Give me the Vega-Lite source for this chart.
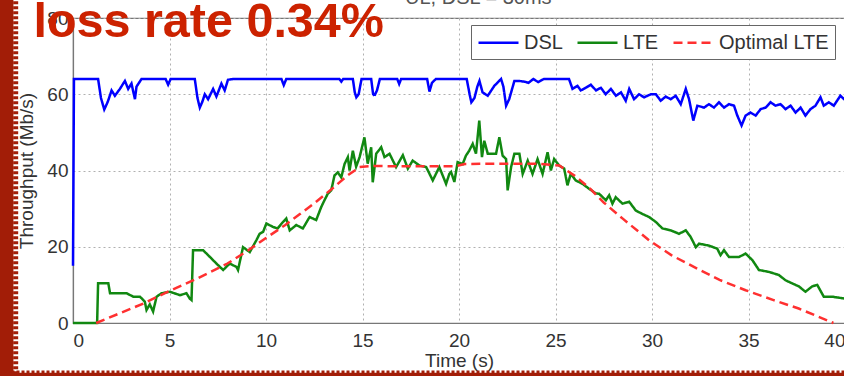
{
"$schema": "https://vega.github.io/schema/vega-lite/v6.json",
"width": 772, "height": 305,
"autosize": {"type": "none"},
"padding": {"left": 73, "top": 18, "right": 0, "bottom": 53},
"background": "white",
"config": {
 "view": {"stroke": "#777", "strokeWidth": 1.2},
 "font": "Liberation Sans",
 "axis": {"labelFont": "Liberation Sans", "labelFontSize": 19, "labelColor": "#333", "titleFont": "Liberation Sans", "titleFontSize": 19, "titleFontWeight": "normal", "titleColor": "#333", "grid": true, "gridColor": "#b0b0b0", "gridDash": [2, 3], "gridWidth": 1, "ticks": false, "domainColor": "#777", "domainWidth": 1.2}
},
"datasets": {
 "series": [
{"s":"DSL","t":0,"v":15},{"s":"DSL","t":0.05,"v":64},{"s":"DSL","t":1.3,"v":64},{"s":"DSL","t":1.45,"v":59},{"s":"DSL","t":1.62,"v":56},{"s":"DSL","t":1.8,"v":58},{"s":"DSL","t":2.0,"v":61},{"s":"DSL","t":2.17,"v":59.6},{"s":"DSL","t":2.43,"v":61.4},{"s":"DSL","t":2.69,"v":63.5},{"s":"DSL","t":2.86,"v":61.4},{"s":"DSL","t":3.03,"v":62.8},{"s":"DSL","t":3.21,"v":58.7},{"s":"DSL","t":3.29,"v":62},{"s":"DSL","t":3.55,"v":64},{"s":"DSL","t":4.8,"v":64},{"s":"DSL","t":4.93,"v":62.5},{"s":"DSL","t":5.06,"v":64},{"s":"DSL","t":6.31,"v":64},{"s":"DSL","t":6.45,"v":59},{"s":"DSL","t":6.57,"v":56.5},{"s":"DSL","t":6.7,"v":58},{"s":"DSL","t":6.83,"v":60},{"s":"DSL","t":7.0,"v":58.7},{"s":"DSL","t":7.26,"v":61.4},{"s":"DSL","t":7.43,"v":59.4},{"s":"DSL","t":7.69,"v":62.8},{"s":"DSL","t":7.86,"v":61},{"s":"DSL","t":8.03,"v":63.8},{"s":"DSL","t":8.3,"v":64},{"s":"DSL","t":10.8,"v":64},{"s":"DSL","t":10.92,"v":62.4},{"s":"DSL","t":11.05,"v":64},{"s":"DSL","t":13.8,"v":64},{"s":"DSL","t":13.9,"v":63.3},{"s":"DSL","t":14.0,"v":64},{"s":"DSL","t":14.5,"v":64},{"s":"DSL","t":14.6,"v":60.5},{"s":"DSL","t":14.68,"v":59.2},{"s":"DSL","t":14.8,"v":60},{"s":"DSL","t":14.95,"v":64},{"s":"DSL","t":15.45,"v":64},{"s":"DSL","t":15.55,"v":60},{"s":"DSL","t":15.62,"v":59.6},{"s":"DSL","t":15.75,"v":61},{"s":"DSL","t":15.9,"v":64},{"s":"DSL","t":16.8,"v":64},{"s":"DSL","t":16.9,"v":62.7},{"s":"DSL","t":17.0,"v":64},{"s":"DSL","t":18.35,"v":64},{"s":"DSL","t":18.47,"v":60.7},{"s":"DSL","t":18.6,"v":63},{"s":"DSL","t":18.8,"v":64},{"s":"DSL","t":20.4,"v":64},{"s":"DSL","t":20.55,"v":60},{"s":"DSL","t":20.64,"v":57.9},{"s":"DSL","t":20.8,"v":59},{"s":"DSL","t":20.95,"v":62},{"s":"DSL","t":21.06,"v":63.5},{"s":"DSL","t":21.22,"v":60.5},{"s":"DSL","t":21.49,"v":59.6},{"s":"DSL","t":21.83,"v":62.2},{"s":"DSL","t":22.18,"v":64},{"s":"DSL","t":22.3,"v":62},{"s":"DSL","t":22.44,"v":57},{"s":"DSL","t":22.6,"v":58.7},{"s":"DSL","t":22.87,"v":63.5},{"s":"DSL","t":23.1,"v":63.5},{"s":"DSL","t":23.4,"v":63.3},{"s":"DSL","t":23.6,"v":63},{"s":"DSL","t":23.85,"v":64},{"s":"DSL","t":24.1,"v":63.2},{"s":"DSL","t":24.4,"v":64},{"s":"DSL","t":25.7,"v":64},{"s":"DSL","t":25.88,"v":61.4},{"s":"DSL","t":26.14,"v":62.2},{"s":"DSL","t":26.31,"v":61},{"s":"DSL","t":26.57,"v":61.7},{"s":"DSL","t":26.83,"v":62.5},{"s":"DSL","t":27.1,"v":61},{"s":"DSL","t":27.35,"v":61.7},{"s":"DSL","t":27.6,"v":60},{"s":"DSL","t":27.87,"v":61.4},{"s":"DSL","t":28.13,"v":59.6},{"s":"DSL","t":28.39,"v":60.5},{"s":"DSL","t":28.64,"v":58.3},{"s":"DSL","t":28.82,"v":61.4},{"s":"DSL","t":29.07,"v":58.7},{"s":"DSL","t":29.33,"v":60},{"s":"DSL","t":29.59,"v":59.2},{"s":"DSL","t":29.94,"v":60},{"s":"DSL","t":30.2,"v":60},{"s":"DSL","t":30.45,"v":58.3},{"s":"DSL","t":30.71,"v":59.4},{"s":"DSL","t":30.97,"v":58.7},{"s":"DSL","t":31.23,"v":59.6},{"s":"DSL","t":31.49,"v":57.4},{"s":"DSL","t":31.75,"v":61.4},{"s":"DSL","t":31.92,"v":58.7},{"s":"DSL","t":32.14,"v":53.1},{"s":"DSL","t":32.35,"v":57},{"s":"DSL","t":32.7,"v":56.5},{"s":"DSL","t":32.95,"v":57.4},{"s":"DSL","t":33.21,"v":56.5},{"s":"DSL","t":33.47,"v":57.9},{"s":"DSL","t":33.73,"v":56.5},{"s":"DSL","t":33.99,"v":57.4},{"s":"DSL","t":34.25,"v":57},{"s":"DSL","t":34.42,"v":54.4},{"s":"DSL","t":34.64,"v":51.8},{"s":"DSL","t":34.85,"v":54.4},{"s":"DSL","t":35.1,"v":55.2},{"s":"DSL","t":35.37,"v":54.4},{"s":"DSL","t":35.63,"v":56.1},{"s":"DSL","t":35.89,"v":56.5},{"s":"DSL","t":36.14,"v":57.9},{"s":"DSL","t":36.4,"v":57},{"s":"DSL","t":36.66,"v":57.4},{"s":"DSL","t":36.92,"v":56.1},{"s":"DSL","t":37.18,"v":57},{"s":"DSL","t":37.44,"v":55.2},{"s":"DSL","t":37.7,"v":56.5},{"s":"DSL","t":37.95,"v":54.4},{"s":"DSL","t":38.21,"v":56.1},{"s":"DSL","t":38.47,"v":57},{"s":"DSL","t":38.73,"v":59.2},{"s":"DSL","t":38.9,"v":57},{"s":"DSL","t":39.16,"v":57.9},{"s":"DSL","t":39.42,"v":57},{"s":"DSL","t":39.76,"v":59.6},{"s":"DSL","t":40,"v":58.5},
{"s":"LTE","t":0,"v":0},{"s":"LTE","t":1.25,"v":0},{"s":"LTE","t":1.3,"v":10.4},{"s":"LTE","t":1.83,"v":10.4},{"s":"LTE","t":1.92,"v":7.8},{"s":"LTE","t":2.78,"v":7.8},{"s":"LTE","t":3.12,"v":6.9},{"s":"LTE","t":3.47,"v":6.9},{"s":"LTE","t":3.72,"v":5.6},{"s":"LTE","t":3.81,"v":3.4},{"s":"LTE","t":3.98,"v":4.9},{"s":"LTE","t":4.15,"v":3.0},{"s":"LTE","t":4.33,"v":6.9},{"s":"LTE","t":4.59,"v":7.8},{"s":"LTE","t":5.02,"v":8.2},{"s":"LTE","t":5.54,"v":7.3},{"s":"LTE","t":5.88,"v":7.8},{"s":"LTE","t":6.05,"v":6.4},{"s":"LTE","t":6.14,"v":6.0},{"s":"LTE","t":6.22,"v":19.1},{"s":"LTE","t":6.74,"v":19.1},{"s":"LTE","t":7.1,"v":17.3},{"s":"LTE","t":7.43,"v":15.6},{"s":"LTE","t":7.78,"v":13.9},{"s":"LTE","t":8.12,"v":15.6},{"s":"LTE","t":8.47,"v":14.7},{"s":"LTE","t":8.55,"v":13.9},{"s":"LTE","t":8.81,"v":19.9},{"s":"LTE","t":9.16,"v":18.6},{"s":"LTE","t":9.5,"v":21.7},{"s":"LTE","t":9.67,"v":23.4},{"s":"LTE","t":9.85,"v":23.9},{"s":"LTE","t":10.02,"v":26.1},{"s":"LTE","t":10.36,"v":25.2},{"s":"LTE","t":10.6,"v":24.8},{"s":"LTE","t":10.88,"v":26.5},{"s":"LTE","t":11.05,"v":27.4},{"s":"LTE","t":11.23,"v":24.3},{"s":"LTE","t":11.57,"v":25.7},{"s":"LTE","t":11.91,"v":24.8},{"s":"LTE","t":12.26,"v":27.8},{"s":"LTE","t":12.6,"v":27},{"s":"LTE","t":12.86,"v":30.4},{"s":"LTE","t":13.03,"v":32.2},{"s":"LTE","t":13.2,"v":33.9},{"s":"LTE","t":13.38,"v":34.8},{"s":"LTE","t":13.55,"v":38.7},{"s":"LTE","t":13.72,"v":39.5},{"s":"LTE","t":13.9,"v":38.2},{"s":"LTE","t":14.07,"v":41.7},{"s":"LTE","t":14.24,"v":43.5},{"s":"LTE","t":14.33,"v":40},{"s":"LTE","t":14.5,"v":45.2},{"s":"LTE","t":14.67,"v":41},{"s":"LTE","t":14.85,"v":43.5},{"s":"LTE","t":15.1,"v":48.7},{"s":"LTE","t":15.27,"v":41.8},{"s":"LTE","t":15.45,"v":46.1},{"s":"LTE","t":15.53,"v":36.9},{"s":"LTE","t":15.71,"v":44.4},{"s":"LTE","t":15.97,"v":46.1},{"s":"LTE","t":16.14,"v":43.5},{"s":"LTE","t":16.4,"v":44.4},{"s":"LTE","t":16.74,"v":40.9},{"s":"LTE","t":17.09,"v":44},{"s":"LTE","t":17.35,"v":40.5},{"s":"LTE","t":17.6,"v":42.6},{"s":"LTE","t":17.95,"v":41.3},{"s":"LTE","t":18.3,"v":40.9},{"s":"LTE","t":18.64,"v":37.4},{"s":"LTE","t":18.98,"v":40.9},{"s":"LTE","t":19.33,"v":36.5},{"s":"LTE","t":19.5,"v":39.1},{"s":"LTE","t":19.59,"v":39.6},{"s":"LTE","t":19.76,"v":37},{"s":"LTE","t":19.93,"v":42.2},{"s":"LTE","t":20.19,"v":41.7},{"s":"LTE","t":20.36,"v":43.9},{"s":"LTE","t":20.53,"v":45.2},{"s":"LTE","t":20.71,"v":47},{"s":"LTE","t":20.88,"v":44.4},{"s":"LTE","t":21.05,"v":53.1},{"s":"LTE","t":21.19,"v":43.5},{"s":"LTE","t":21.31,"v":47.8},{"s":"LTE","t":21.49,"v":44.4},{"s":"LTE","t":21.92,"v":44.4},{"s":"LTE","t":22.09,"v":48.7},{"s":"LTE","t":22.26,"v":43.9},{"s":"LTE","t":22.44,"v":43},{"s":"LTE","t":22.52,"v":34.8},{"s":"LTE","t":22.7,"v":40.9},{"s":"LTE","t":22.87,"v":44.4},{"s":"LTE","t":23.13,"v":44.4},{"s":"LTE","t":23.3,"v":39.1},{"s":"LTE","t":23.56,"v":42.6},{"s":"LTE","t":23.81,"v":39.1},{"s":"LTE","t":24.07,"v":43},{"s":"LTE","t":24.33,"v":39.1},{"s":"LTE","t":24.59,"v":44.8},{"s":"LTE","t":24.76,"v":40},{"s":"LTE","t":24.93,"v":43},{"s":"LTE","t":25.19,"v":41.3},{"s":"LTE","t":25.45,"v":40.5},{"s":"LTE","t":25.62,"v":36.1},{"s":"LTE","t":25.79,"v":39.1},{"s":"LTE","t":26.05,"v":37.4},{"s":"LTE","t":26.4,"v":36.5},{"s":"LTE","t":26.74,"v":35.2},{"s":"LTE","t":27.09,"v":34},{"s":"LTE","t":27.26,"v":33.9},{"s":"LTE","t":27.61,"v":32.2},{"s":"LTE","t":27.78,"v":33.5},{"s":"LTE","t":27.95,"v":31.3},{"s":"LTE","t":28.12,"v":33},{"s":"LTE","t":28.47,"v":31.3},{"s":"LTE","t":28.82,"v":31.8},{"s":"LTE","t":29.16,"v":29.5},{"s":"LTE","t":29.5,"v":28.6},{"s":"LTE","t":29.85,"v":27.8},{"s":"LTE","t":30.2,"v":26.5},{"s":"LTE","t":30.54,"v":24.8},{"s":"LTE","t":30.97,"v":24.3},{"s":"LTE","t":31.4,"v":23.4},{"s":"LTE","t":31.75,"v":24.3},{"s":"LTE","t":32,"v":22.6},{"s":"LTE","t":32.27,"v":19.9},{"s":"LTE","t":32.44,"v":20.8},{"s":"LTE","t":32.95,"v":20.3},{"s":"LTE","t":33.38,"v":19.5},{"s":"LTE","t":33.55,"v":17.8},{"s":"LTE","t":33.73,"v":19.1},{"s":"LTE","t":33.99,"v":17.3},{"s":"LTE","t":34.5,"v":17.3},{"s":"LTE","t":34.85,"v":18.2},{"s":"LTE","t":35.2,"v":16.5},{"s":"LTE","t":35.54,"v":13.9},{"s":"LTE","t":36.06,"v":13.4},{"s":"LTE","t":36.57,"v":12.6},{"s":"LTE","t":36.92,"v":11.2},{"s":"LTE","t":37.26,"v":10.4},{"s":"LTE","t":37.61,"v":9.6},{"s":"LTE","t":37.95,"v":8.2},{"s":"LTE","t":38.3,"v":9.6},{"s":"LTE","t":38.56,"v":10},{"s":"LTE","t":38.9,"v":6.9},{"s":"LTE","t":39.33,"v":6.9},{"s":"LTE","t":40,"v":6.4},
{"s":"Optimal LTE","t":1.2,"v":0},{"s":"Optimal LTE","t":3.64,"v":5.1},{"s":"Optimal LTE","t":5,"v":8.4},{"s":"Optimal LTE","t":6.5,"v":11.8},{"s":"Optimal LTE","t":8,"v":15.6},{"s":"Optimal LTE","t":9,"v":18.8},{"s":"Optimal LTE","t":10,"v":22.3},{"s":"Optimal LTE","t":11,"v":25.7},{"s":"Optimal LTE","t":11.74,"v":28.5},{"s":"Optimal LTE","t":12.5,"v":31.4},{"s":"Optimal LTE","t":13.47,"v":35.4},{"s":"Optimal LTE","t":14.2,"v":38.6},{"s":"Optimal LTE","t":14.85,"v":40.9},{"s":"Optimal LTE","t":15.5,"v":41.2},{"s":"Optimal LTE","t":17,"v":41.1},{"s":"Optimal LTE","t":19.8,"v":41.1},{"s":"Optimal LTE","t":20.3,"v":41.7},{"s":"Optimal LTE","t":22,"v":41.8},{"s":"Optimal LTE","t":24,"v":41.8},{"s":"Optimal LTE","t":25.2,"v":41.3},{"s":"Optimal LTE","t":26,"v":38.6},{"s":"Optimal LTE","t":26.74,"v":35.5},{"s":"Optimal LTE","t":27.5,"v":31.6},{"s":"Optimal LTE","t":28.5,"v":27.3},{"s":"Optimal LTE","t":29.85,"v":21.7},{"s":"Optimal LTE","t":31,"v":17.8},{"s":"Optimal LTE","t":32.44,"v":14.0},{"s":"Optimal LTE","t":33.5,"v":11.3},{"s":"Optimal LTE","t":34.85,"v":8.6},{"s":"Optimal LTE","t":36.3,"v":6.0},{"s":"Optimal LTE","t":37.6,"v":3.8},{"s":"Optimal LTE","t":38.7,"v":1.5},{"s":"Optimal LTE","t":39.4,"v":0}
 ],
 "notes": [
  {"label": "loss rate 0.34%", "t": -2.05, "v": 75.0},
  {"label": "UL, DSL = 30ms", "t": 21.0, "v": 83.7}
 ],
 "edges": [
  {"t": -3.45, "v": -20, "t2": -3.45, "v2": 100, "w": 14, "kind": "core"},
  {"t": -5, "v": -13.7, "t2": 45, "v2": -13.7, "w": 5, "kind": "core"},
  {"t": -2.97, "v": -20, "t2": -2.97, "v2": 100, "w": 5, "kind": "fringe"},
  {"t": -5, "v": -12.8, "t2": 45, "v2": -12.8, "w": 2.5, "kind": "fringe"}
 ]
},
"layer": [
 {
  "data": {"name": "series"},
  "mark": {"type": "line", "strokeWidth": 2.5},
  "encoding": {
   "x": {"field": "t", "type": "quantitative", "scale": {"domain": [0, 40], "nice": false, "zero": false}, "axis": {"title": "Time (s)", "values": [0,5,10,15,20,25,30,35,40], "labelPadding": 8, "titlePadding": 1}},
   "y": {"field": "v", "type": "quantitative", "scale": {"domain": [0, 80], "nice": false}, "axis": {"title": "Throughput (Mb/s)", "values": [0,20,40,60,80], "labelPadding": 5, "titlePadding": 10}},
   "color": {"field": "s", "type": "nominal", "title": null, "scale": {"domain": ["DSL", "LTE", "Optimal LTE"], "range": ["#0000ff", "#118811", "#ff3030"]},
     "legend": {"title": null, "orient": "none", "legendX": 398, "legendY": 7, "direction": "horizontal", "symbolType": "M-1,0H3", "symbolSize": 400, "symbolStrokeWidth": 2.5, "labelFont": "Liberation Sans", "labelFontSize": 20, "labelColor": "#333", "labelOffset": 24, "columnPadding": 9, "padding": 6, "strokeColor": "#666", "fillColor": "white"}},
   "strokeDash": {"field": "s", "type": "nominal", "title": null, "scale": {"domain": ["DSL", "LTE", "Optimal LTE"], "range": [[1, 0], [1, 0], [9, 5]]},
     "legend": {"title": null, "orient": "none", "legendX": 398, "legendY": 7, "direction": "horizontal", "symbolType": "M-1,0H3", "symbolSize": 400, "symbolStrokeWidth": 2.5, "labelFont": "Liberation Sans", "labelFontSize": 20, "labelColor": "#333", "labelOffset": 24, "columnPadding": 9, "padding": 6, "strokeColor": "#666", "fillColor": "white"}}
  }
 },
 {
  "data": {"name": "notes"},
  "transform": [{"filter": "datum.label == 'loss rate 0.34%'"}],
  "mark": {"type": "text", "align": "left", "baseline": "alphabetic", "fontSize": 48.5, "fontWeight": "bold", "font": "Liberation Sans", "color": "#cc2200", "clip": false},
  "encoding": {
   "x": {"field": "t", "type": "quantitative", "scale": {"domain": [0, 40], "nice": false, "zero": false}},
   "y": {"field": "v", "type": "quantitative", "scale": {"domain": [0, 80], "nice": false}},
   "text": {"field": "label"}
  }
 },
 {
  "data": {"name": "notes"},
  "transform": [{"filter": "datum.label != 'loss rate 0.34%'"}],
  "mark": {"type": "text", "align": "center", "baseline": "alphabetic", "fontSize": 20, "font": "Liberation Sans", "color": "#555", "clip": false},
  "encoding": {
   "x": {"field": "t", "type": "quantitative", "scale": {"domain": [0, 40], "nice": false, "zero": false}},
   "y": {"field": "v", "type": "quantitative", "scale": {"domain": [0, 80], "nice": false}},
   "text": {"field": "label"}
  }
 },
 {
  "data": {"name": "edges"},
  "transform": [{"filter": "datum.kind == 'core'"}],
  "mark": {"type": "rule", "color": "#a21d07", "clip": false},
  "encoding": {
   "x": {"field": "t", "type": "quantitative", "scale": {"domain": [0, 40], "nice": false, "zero": false}},
   "y": {"field": "v", "type": "quantitative", "scale": {"domain": [0, 80], "nice": false}},
   "x2": {"field": "t2"},
   "y2": {"field": "v2"},
   "strokeWidth": {"field": "w", "type": "quantitative", "scale": null}
  }
 },
 {
  "data": {"name": "edges"},
  "transform": [{"filter": "datum.kind == 'fringe'"}],
  "mark": {"type": "rule", "color": "#a21d07", "strokeDash": [3, 2], "clip": false},
  "encoding": {
   "x": {"field": "t", "type": "quantitative", "scale": {"domain": [0, 40], "nice": false, "zero": false}},
   "y": {"field": "v", "type": "quantitative", "scale": {"domain": [0, 80], "nice": false}},
   "x2": {"field": "t2"},
   "y2": {"field": "v2"},
   "strokeWidth": {"field": "w", "type": "quantitative", "scale": null}
  }
 }
]
}
